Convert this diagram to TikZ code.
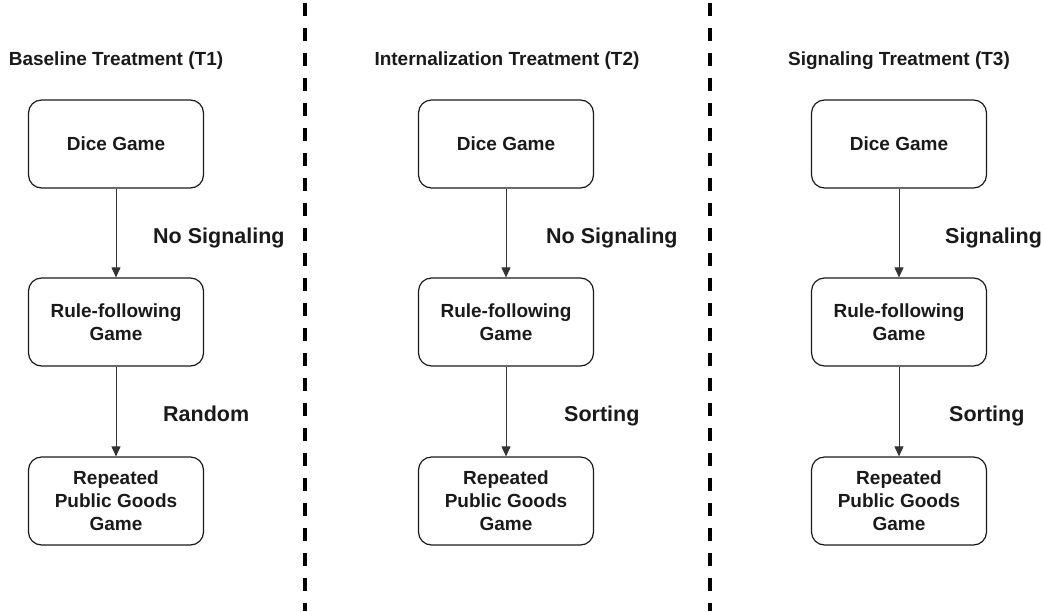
\documentclass[tikz,border=0pt]{standalone}
\usepackage{fontspec}
\setmainfont{Liberation Sans}
\usetikzlibrary{arrows.meta}
\definecolor{ink}{HTML}{1A1A1A}
\tikzset{
  stage/.style={draw=ink, line width=1.2pt, rounded corners=13pt,
    minimum width=175pt, minimum height=88pt, align=center,
    text=ink, font=\bfseries\fontsize{19}{23}\selectfont, inner sep=0pt},
  heading/.style={anchor=base, text=ink, font=\bfseries\fontsize{19}{23}\selectfont, inner sep=0pt},
  tag/.style={anchor=base west, text=ink, font=\bfseries\fontsize{21.5}{26}\selectfont, inner sep=0pt},
  flow/.style={draw=black!80, line width=0.9pt, -{Triangle[length=10pt,width=9pt]}},
  divider/.style={line width=4pt, dash pattern=on 13pt off 12pt}
}
\begin{document}
\begin{tikzpicture}[x=1pt,y=-1pt]
\useasboundingbox (0,0) rectangle (1044,611);

% separators between the three treatments
\draw[divider] (305,3) -- (305,611);
\draw[divider] (710,3) -- (710,611);

% column headings
\node[heading] (h1) at (116,65) {Baseline Treatment (T1)};
\node[heading] (h2) at (507,65) {Internalization Treatment (T2)};
\node[heading] (h3) at (899,65) {Signaling Treatment (T3)};

% T1
\node[stage] (d1) at (116,144) {Dice Game};
\node[stage] (r1) at (116,322) {Rule-following\\Game};
\node[stage] (p1) at (116,501) {Repeated\\Public Goods\\Game};
\draw[flow] (d1) -- (r1);
\draw[flow] (r1) -- (p1);
\node[tag] (l1a) at (153,243) {No Signaling};
\node[tag] (l1b) at (163,421) {Random};

% T2
\node[stage] (d2) at (506,144) {Dice Game};
\node[stage] (r2) at (506,322) {Rule-following\\Game};
\node[stage] (p2) at (506,501) {Repeated\\Public Goods\\Game};
\draw[flow] (d2) -- (r2);
\draw[flow] (r2) -- (p2);
\node[tag] (l2a) at (546,243) {No Signaling};
\node[tag] (l2b) at (564,421) {Sorting};

% T3
\node[stage] (d3) at (899,144) {Dice Game};
\node[stage] (r3) at (899,322) {Rule-following\\Game};
\node[stage] (p3) at (899,501) {Repeated\\Public Goods\\Game};
\draw[flow] (d3) -- (r3);
\draw[flow] (r3) -- (p3);
\node[tag] (l3a) at (945,243) {Signaling};
\node[tag] (l3b) at (949,421) {Sorting};
\end{tikzpicture}
\end{document}
